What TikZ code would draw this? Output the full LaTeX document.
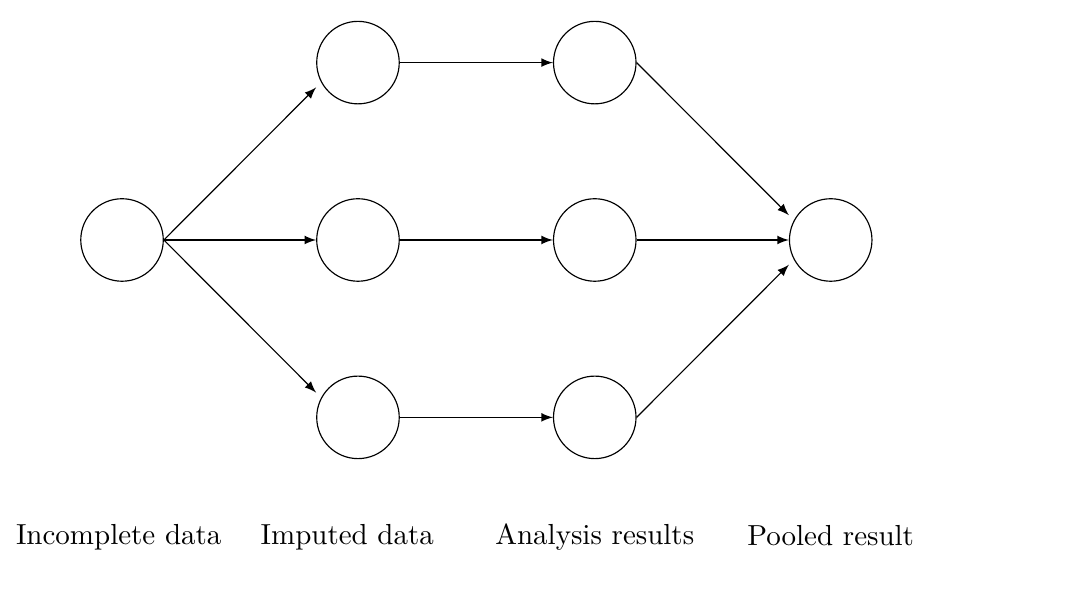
\documentclass[tikz,border=0pt]{standalone}
\usepackage{tikz}

\tikzset{
	stage/.style={circle, draw, minimum size=1cm, inner sep=0pt},
	flow/.style={-latex}
}

\begin{document}
\begin{tikzpicture}
			%%%%% START %%%%%
			
			\useasboundingbox (-1.479, -4.315) rectangle (11.648, 2.909);
			
			\node[stage] (inc) at (0, 0) {};
			
			\node[stage] (imp1) at (2.86, 2.15) {};
			\node[stage] (imp2) at (2.86, 0) {};
			\node[stage] (imp3) at (2.86, -2.15) {};
			
			\node[stage] (ana1) at (5.73, 2.15) {};
			\node[stage] (ana2) at (5.73, 0) {};
			\node[stage] (ana3) at (5.73, -2.15) {};
			
			\node[stage] (pool) at (8.59, 0) {};
			
			\draw[flow] (inc.east) -- ([yshift=-0.3cm]imp1.west);
			\draw[flow] (inc.east) -- (imp2.west);
			\draw[flow] (inc.east) -- ([yshift=0.3cm]imp3.west);
			
			\draw[flow] (imp1) -- (ana1);
			\draw[flow] (imp2) -- (ana2);
			\draw[flow] (imp3) -- (ana3);
			
			\draw[flow] (ana1.east) -- ([yshift=0.3cm]pool.west);
			\draw[flow] (ana2.east) -- (pool.west);
			\draw[flow] (ana3.east) -- ([yshift=-0.3cm]pool.west);
			
			\node[anchor=base] (lblinc) at (-0.04, -3.685) {Incomplete data};
			\node[anchor=base] (lblimp) at (2.73, -3.685) {Imputed data};
			\node[anchor=base] (lblana) at (5.73, -3.685) {Analysis results};
			\node[anchor=base] (lblpool) at (8.59, -3.70) {Pooled result};
			
			%%%%% END %%%%%
		\end{tikzpicture}
\end{document}
